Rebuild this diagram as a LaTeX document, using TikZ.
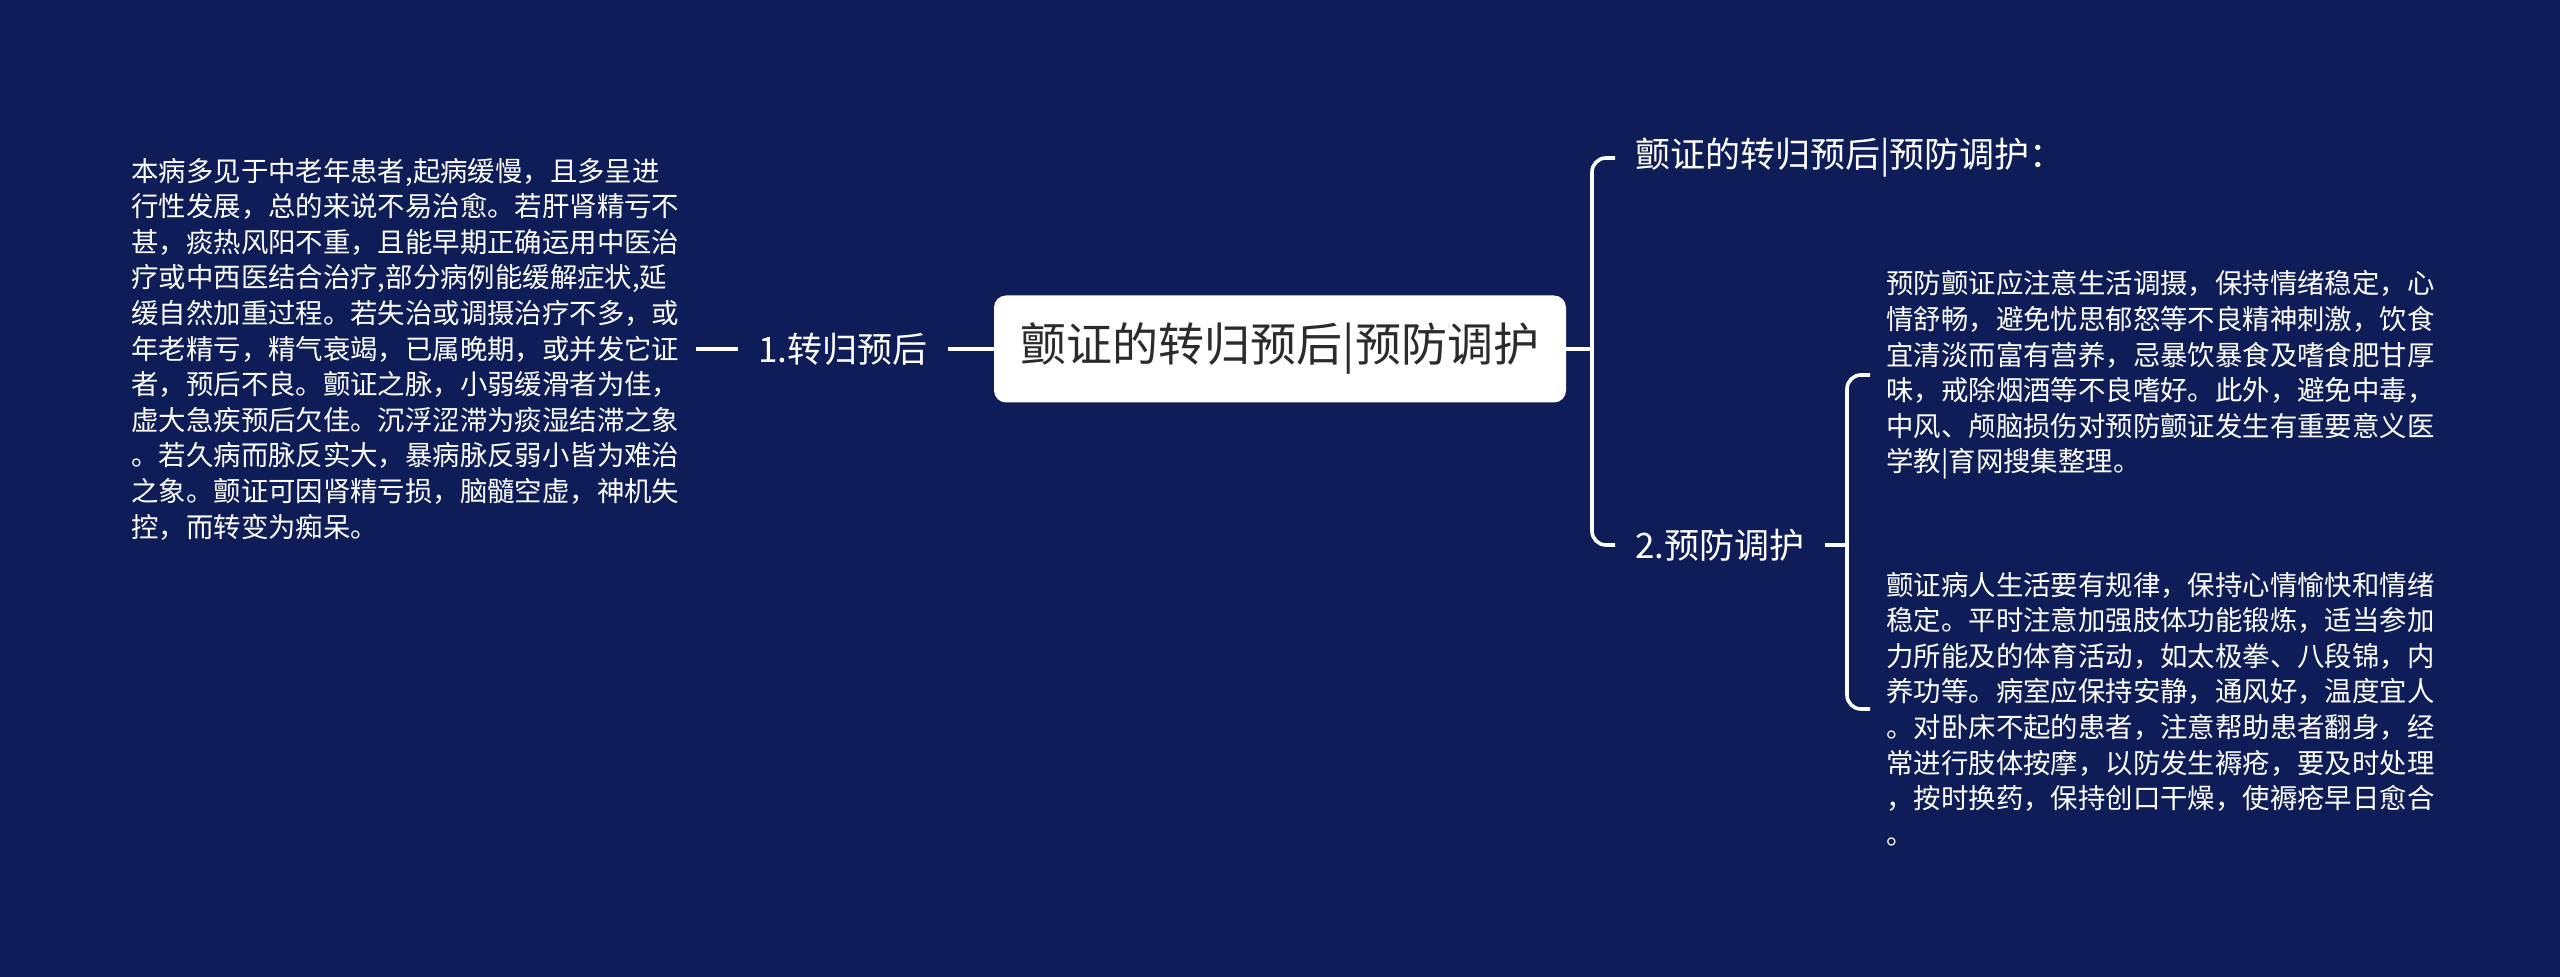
\documentclass[tikz,border=0pt]{standalone}
\usepackage{fontspec}
\setmainfont{Noto Sans CJK SC}
\usepackage{tikz}
\usetikzlibrary{positioning}
\definecolor{navy}{HTML}{0E1D57}
\definecolor{rootink}{HTML}{2B2B2B}

\begin{document}
\begin{tikzpicture}[
  x=0.5pt, y=-0.5pt,
  link/.style={draw=white, line width=1.8pt, rounded corners=7pt},
  rootbox/.style={fill=white, rounded corners=6pt, minimum width=286pt, minimum height=53.5pt,
    text=rootink, font=\fontsize{23pt}{27pt}\selectfont},
  branch/.style={text=white, inner xsep=10pt, inner ysep=2pt, font=\fontsize{17.5pt}{21pt}\selectfont},
  leaf/.style={text=white, align=left, inner xsep=8pt, inner ysep=0pt, anchor=west,
    font=\fontsize{13.7pt}{17.8pt}\selectfont}
]
  % background
  \fill[navy] (0,0) rectangle (2560,977);

  % centre
  \node[rootbox] (root) at (1280,349) {颤证的转归预后|预防调护};

  % left side
  \node[branch] (n1) at (843,349) {1.转归预后};
  \node[leaf] (leftText) at (115,349) {本病多见于中老年患者,起病缓慢，且多呈进\\
行性发展，总的来说不易治愈。若肝肾精亏不\\
甚，痰热风阳不重，且能早期正确运用中医治\\
疗或中西医结合治疗,部分病例能缓解症状,延\\
缓自然加重过程。若失治或调摄治疗不多，或\\
年老精亏，精气衰竭，已属晚期，或并发它证\\
者，预后不良。颤证之脉，小弱缓滑者为佳，\\
虚大急疾预后欠佳。沉浮涩滞为痰湿结滞之象\\
。若久病而脉反实大，暴病脉反弱小皆为难治\\
之象。颤证可因肾精亏损，脑髓空虚，神机失\\
控，而转变为痴呆。};
  \draw[link] (leftText.east) -- (n1.west);
  \draw[link] (n1.east) -- (root.west);

  % right side
  \coordinate (fork1) at (1592,349);
  \node[branch, anchor=west] (title) at (1615,158) {颤证的转归预后|预防调护：};
  \node[branch, anchor=west] (n2) at (1615,545) {2.预防调护};
  \draw[link] (root.east) -- (fork1);
  \draw[link] (title.west) -| (fork1) |- (n2.west);

  \coordinate (fork2) at (1847,545);
  \node[leaf] (block1) at (1870,375) {预防颤证应注意生活调摄，保持情绪稳定，心\\
情舒畅，避免忧思郁怒等不良精神刺激，饮食\\
宜清淡而富有营养，忌暴饮暴食及嗜食肥甘厚\\
味，戒除烟酒等不良嗜好。此外，避免中毒，\\
中风、颅脑损伤对预防颤证发生有重要意义医\\
学教|育网搜集整理。};
  \node[leaf] (block2) at (1870,709) {颤证病人生活要有规律，保持心情愉快和情绪\\
稳定。平时注意加强肢体功能锻炼，适当参加\\
力所能及的体育活动，如太极拳、八段锦，内\\
养功等。病室应保持安静，通风好，温度宜人\\
。对卧床不起的患者，注意帮助患者翻身，经\\
常进行肢体按摩，以防发生褥疮，要及时处理\\
，按时换药，保持创口干燥，使褥疮早日愈合\\
。};
  \draw[link] (n2.east) -- (fork2);
  \draw[link] (block1.west) -| (fork2) |- (block2.west);
\end{tikzpicture}
\end{document}
